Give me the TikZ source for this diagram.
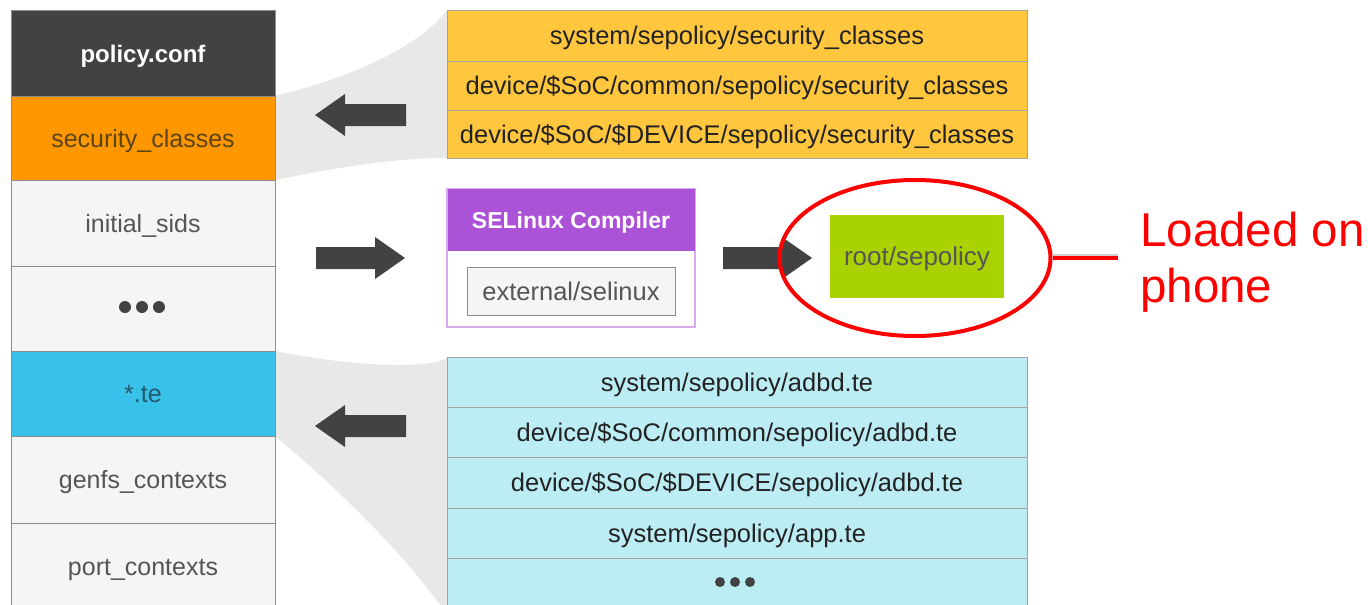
\documentclass[tikz,border=0pt]{standalone}
\usepackage{fontspec}
\setmainfont{Liberation Sans}
\usetikzlibrary{shapes.geometric}
\definecolor{darkhead}{HTML}{424242}
\definecolor{orangecell}{HTML}{FF9800}
\definecolor{lightcell}{HTML}{F5F5F5}
\definecolor{cyancell}{HTML}{38C1E9}
\definecolor{yellowcell}{HTML}{FFC63E}
\definecolor{paleblue}{HTML}{BDEDF4}
\definecolor{purplehead}{HTML}{AB52D6}
\definecolor{purpleline}{HTML}{D9A9EE}
\definecolor{greencell}{HTML}{A9D300}
\definecolor{fangray}{HTML}{E8E8E8}
\definecolor{cellline}{HTML}{8C8C8C}
\definecolor{greytext}{HTML}{555555}
\definecolor{inktext}{HTML}{222222}
\definecolor{orangetext}{HTML}{5A4418}
\definecolor{cyantext}{HTML}{24586A}
\definecolor{arrowgray}{HTML}{424242}
\begin{document}
\begin{tikzpicture}[x=1pt,y=-1pt,
  cell/.style={draw=cellline, line width=1pt, minimum width=264pt, inner sep=0pt, outer sep=0pt,
    font=\fontsize{25}{30}\selectfont, text=greytext, text height=23pt, text depth=5pt},
  row/.style={draw=cellline!80, line width=1pt, minimum width=580pt, inner sep=0pt, outer sep=0pt,
    font=\fontsize{25.5}{30}\selectfont, text=inktext, text height=23pt, text depth=5pt},
  dot/.style={circle, fill=#1, minimum size=12pt, inner sep=0pt},
  rightblock/.pic={\fill[arrowgray] (-44,-11) -- (15,-11) -- (15,-21) -- (45,0) -- (15,21) -- (15,11) -- (-44,11) -- cycle;},
  leftblock/.pic={\fill[arrowgray] (46,-11) -- (-15,-11) -- (-15,-21) -- (-45,0) -- (-15,21) -- (-15,11) -- (46,11) -- cycle;},
]
\useasboundingbox (0,0) rectangle (1368,605);

% fans
\fill[fangray] (275,96) .. controls (360,75) and (420,45) .. (447,10) -- (447,158)
  .. controls (400,158) and (350,165) .. (275,180) -- cycle;
\fill[fangray] (275,351) .. controls (350,366) and (425,370) .. (447,358) -- (447,615)
  .. controls (410,560) and (340,490) .. (275,436) -- cycle;

% left column
\node[cell, fill=darkhead, text=white, minimum height=86pt, font=\fontsize{24}{28}\selectfont\bfseries] (pc) at (143,53) {policy.conf};
\node[cell, fill=orangecell, text=orangetext, minimum height=84pt] (sc) at (143,138) {security\_classes};
\node[cell, fill=lightcell, minimum height=86pt] (is) at (143,223) {initial\_sids};
\node[cell, fill=lightcell, minimum height=85pt] (dl) at (143,308.5) {};
\node[dot=darkhead] (d1) at (125,307) {};
\node[dot=darkhead] (d2) at (142,307) {};
\node[dot=darkhead] (d3) at (159,307) {};
\node[cell, fill=cyancell, text=cyantext, minimum height=85pt] (te) at (143,393.5) {*.te};
\node[cell, fill=lightcell, minimum height=87pt] (gc) at (143,479.5) {genfs\_contexts};
\node[cell, fill=lightcell, minimum height=93pt] (ptc) at (143,569.5) {};
\node[font=\fontsize{25}{30}\selectfont, text=greytext, text height=23pt, text depth=5pt] (ptcl) at (143,566) {port\_contexts};

% yellow list
\node[row, fill=yellowcell, minimum height=51pt] (y1) at (737,35.5) {system/sepolicy/security\_classes};
\node[row, fill=yellowcell, minimum height=49pt] (y2) at (737,85.5) {device/\$SoC/common/sepolicy/security\_classes};
\node[row, fill=yellowcell, minimum height=48pt] (y3) at (737,134) {device/\$SoC/\$DEVICE/sepolicy/security\_classes};

% cyan list
\node[row, fill=paleblue, minimum height=50pt] (c1) at (737,382) {system/sepolicy/adbd.te};
\node[row, fill=paleblue, minimum height=50pt] (c2) at (737,432) {device/\$SoC/common/sepolicy/adbd.te};
\node[row, fill=paleblue, minimum height=51pt] (c3) at (737,482.5) {device/\$SoC/\$DEVICE/sepolicy/adbd.te};
\node[row, fill=paleblue, minimum height=50pt] (c4) at (737,533) {system/sepolicy/app.te};
\node[row, fill=paleblue, minimum height=57pt] (c5) at (737,586.5) {};
\node[dot=darkhead, minimum size=10pt] (e1) at (720,582) {};
\node[dot=darkhead, minimum size=10pt] (e2) at (735,582) {};
\node[dot=darkhead, minimum size=10pt] (e3) at (750,582) {};

% compiler
\node[draw=purpleline, line width=1.5pt, minimum width=248pt, minimum height=138pt, inner sep=0pt] (comp) at (571,258) {};
\node[fill=purplehead, minimum width=247pt, minimum height=62pt, inner sep=0pt, text=white,
  font=\fontsize{23}{28}\selectfont\bfseries, text height=22pt, text depth=5pt] (comph) at (571,220) {SELinux Compiler};
\node[draw=cellline, line width=1pt, fill=lightcell, minimum width=208pt, minimum height=48pt, inner sep=0pt,
  font=\fontsize{25.5}{30}\selectfont, text=greytext, text height=23pt, text depth=5pt] (ext) at (571,291) {external/selinux};

% root
\node[fill=greencell, minimum width=174pt, minimum height=83pt, inner sep=0pt,
  font=\fontsize{26}{30}\selectfont, text=greytext, text height=23pt, text depth=5pt] (root) at (917,256.5) {root/sepolicy};

% block arrows
\pic at (360,115) {leftblock};
\pic at (360,258) {rightblock};
\pic at (767,258) {rightblock};
\pic at (360,426) {leftblock};

% red callout
\node[draw=red, ellipse, line width=4pt, minimum width=271pt, minimum height=156pt, inner sep=0pt] (oval) at (915,258) {};
\coordinate (lend) at (1118,258);
\draw[black!18, line width=3pt] ([yshift=3pt]oval.east) -- ([yshift=3pt]lend);
\draw[red, line width=4pt] (oval.east) -- (lend);
\node[anchor=base west, inner sep=0pt, text=red, font=\fontsize{47.5}{56}\selectfont] (lo) at (1140,246) {Loaded on};
\node[anchor=base west, inner sep=0pt, text=red, font=\fontsize{47.5}{56}\selectfont] (ph) at (1140,302) {phone};
\end{tikzpicture}
\end{document}
